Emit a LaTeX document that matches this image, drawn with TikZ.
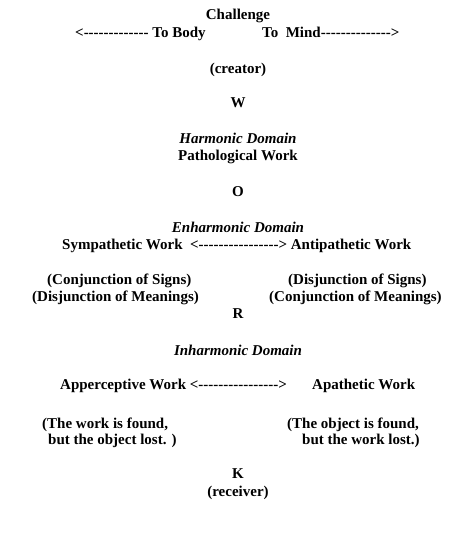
\documentclass[tikz,border=0pt]{standalone}
\usepackage{fontspec}
\setmainfont{Liberation Serif}[Ligatures=TeXOff]
\begin{document}
\begin{tikzpicture}[x=1pt,y=-1pt,
  lbl/.style={inner sep=0pt, font=\fontsize{15}{17}\selectfont\bfseries},
  dom/.style={inner sep=0pt, font=\fontsize{15}{17}\selectfont\bfseries\itshape}]
\useasboundingbox (0,0) rectangle (476,552);
\fill[white] (0,0) rectangle (476,552);
\node[lbl,anchor=base] (challenge) at (238,19) {Challenge};
\node[lbl,anchor=base west] (tobody) at (75,37) {<------------- To Body};
\node[lbl,anchor=base west] (tomind) at (262,37) {To\ \ Mind-------------->};
\node[lbl,anchor=base] (creator) at (238,73) {(creator)};
\node[lbl,anchor=base] (w) at (238,107) {W};
\node[dom,anchor=base] (harm) at (238,143) {Harmonic Domain};
\node[lbl,anchor=base] (path) at (238,160) {Pathological Work};
\node[lbl,anchor=base] (o) at (238,196) {O};
\node[dom,anchor=base] (enharm) at (238,232) {Enharmonic Domain};
\node[lbl,anchor=base west] (symp) at (62,249) {Sympathetic Work\ \ <----------------> Antipathetic Work};
\node[lbl,anchor=base west] (conjsig) at (47,284) {(Conjunction of Signs)};
\node[lbl,anchor=base west] (disjmean) at (32,301) {(Disjunction of Meanings)};
\node[lbl,anchor=base west] (disjsig) at (288,284) {(Disjunction of Signs)};
\node[lbl,anchor=base west] (conjmean) at (269,301) {(Conjunction of Meanings)};
\node[lbl,anchor=base] (r) at (238,318) {R};
\node[dom,anchor=base] (inharm) at (238,355) {Inharmonic Domain};
\node[lbl,anchor=base west] (apper) at (60,389) {Apperceptive Work <---------------->};
\node[lbl,anchor=base west] (apath) at (312,389) {Apathetic Work};
\node[lbl,anchor=base west] (wfound) at (42,428) {(The work is found,};
\node[lbl,anchor=base west] (olost) at (48,444) {but the object lost. )};
\node[lbl,anchor=base west] (ofound) at (287,428) {(The object is found,};
\node[lbl,anchor=base west] (wlost) at (302,444) {but the work lost.)};
\node[lbl,anchor=base] (k) at (238,478) {K};
\node[lbl,anchor=base] (receiver) at (238,496) {(receiver)};
\end{tikzpicture}
\end{document}
